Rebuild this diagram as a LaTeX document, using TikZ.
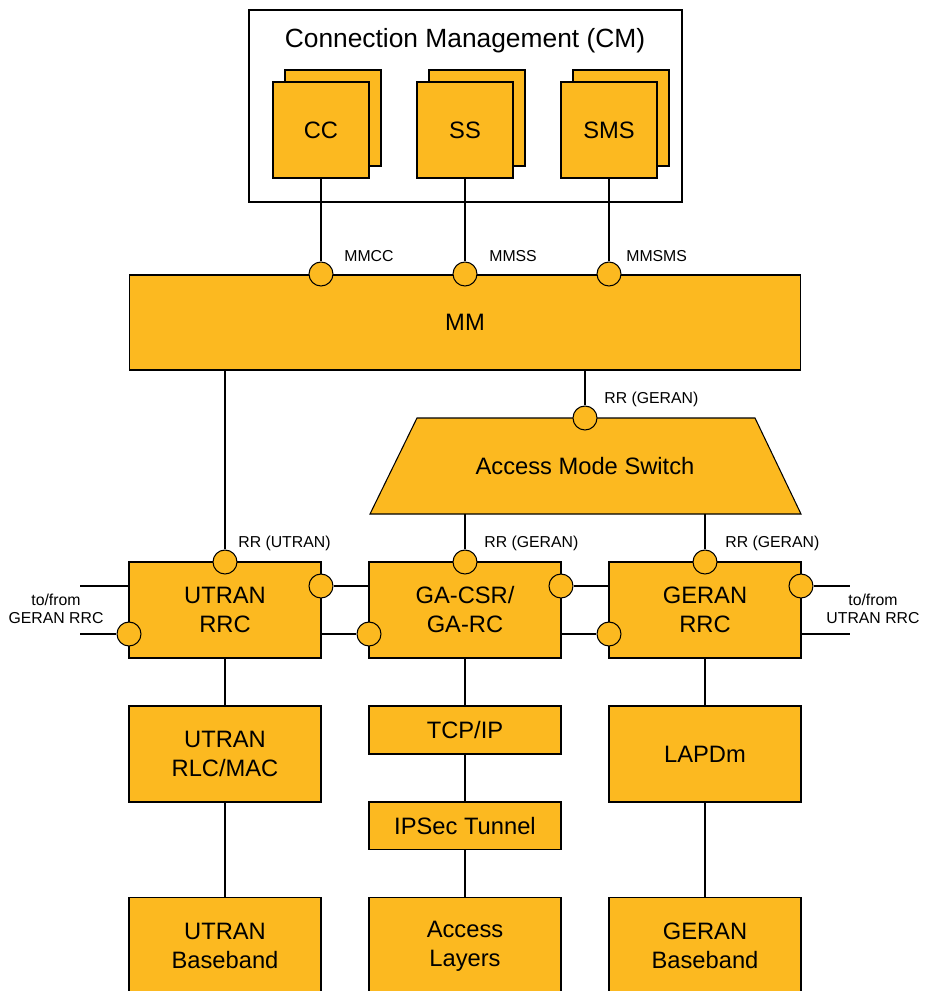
\documentclass[tikz,border=0pt]{standalone}
\usepackage{fontspec}
\setmainfont{Liberation Sans}
\usetikzlibrary{positioning,shadows}
\definecolor{layorange}{HTML}{FCB920}
\tikzset{
  blk/.style={draw,rectangle,fill=layorange,line width=0.6pt,outer sep=0pt,minimum width=3.84cm,minimum height=1.92cm,align=center,font=\fontsize{13.5}{16.5}\selectfont},
  thinblk/.style={blk,minimum height=0.96cm},
  stkblk/.style={blk,minimum width=1.92cm,copy shadow={shadow xshift=0.24cm,shadow yshift=0.24cm,fill=layorange,draw=black,line width=0.6pt}},
  sap/.style={circle,draw,fill=layorange,line width=0.6pt,minimum size=0.48cm,inner sep=0pt},
  lnk/.style={line width=0.85pt},
  lbl/.style={font=\fontsize{9}{10}\selectfont,inner sep=0pt,align=center}
}
\begin{document}
\begin{tikzpicture}[x=0.02cm,y=-0.02cm]
  \useasboundingbox (0,0) rectangle (924,991);
  \clip (0,0) rectangle (924,991);

  % connection management
  \node[draw,line width=1.1pt,minimum width=8.66cm,minimum height=3.84cm] (cmbox) at (465.5,106) {};
  \node[font=\fontsize{15}{18}\selectfont] (cmtitle) at (465,41) {Connection Management (CM)};
  \node[stkblk] (cc) at (321,130) {CC};
  \node[stkblk] (ss) at (465,130) {SS};
  \node[stkblk] (sms) at (609,130) {SMS};

  % mobility management and switch
  \node[blk,minimum width=13.44cm,minimum height=1.9cm] (mm) at (465,322.5) {MM};
  \draw[fill=layorange,line width=0.6pt] (417,418) -- (755,418) -- (801,514) -- (370,514) -- cycle;
  \coordinate (amsbot) at (585,514);
  \node[font=\fontsize{13.5}{16.5}\selectfont] (ams) at (585,466) {Access Mode Switch};

  % RRC row
  \node[blk] (utran) at (225,610) {UTRAN\\RRC};
  \node[blk] (ga) at (465,610) {GA-CSR/\\GA-RC};
  \node[blk] (geran) at (705,610) {GERAN\\RRC};

  % lower layers
  \node[blk,below=0.96cm of utran] (rlc) {UTRAN\\RLC/MAC};
  \node[thinblk,below=0.96cm of ga] (tcp) {TCP/IP};
  \node[thinblk,below=0.96cm of tcp] (ipsec) {IPSec Tunnel};
  \node[blk,below=0.96cm of geran] (lapdm) {LAPDm};
  \node[blk,below=1.92cm of rlc] (utbb) {UTRAN\\Baseband};
  \node[blk,below=0.96cm of ipsec] (acc) {Access\\Layers};
  \node[blk,below=1.92cm of lapdm] (gebb) {GERAN\\Baseband};

  % access points
  \node[sap] (mmcc) at (321,274) {};
  \node[sap] (mmss) at (465,274) {};
  \node[sap] (mmsms) at (609,274) {};
  \node[sap] (amsrr) at (585,418) {};
  \node[sap] (utrr) at (225,562) {};
  \node[sap] (garr) at (465,562) {};
  \node[sap] (gerr) at (705,562) {};
  \node[sap] (utrc) at (321,586) {};
  \node[sap] (utlc) at (129,634) {};
  \node[sap] (galc) at (369,634) {};
  \node[sap] (garc) at (561,586) {};
  \node[sap] (gelc) at (609,634) {};
  \node[sap] (gerc) at (801,586) {};

  \node[lbl,anchor=west] (lmmcc) at (344,256) {MMCC};
  \node[lbl,anchor=west] (lmmss) at (489,256) {MMSS};
  \node[lbl,anchor=west] (lmmsms) at (626,256) {MMSMS};
  \node[lbl,anchor=west] (lamsrr) at (604,399) {RR (GERAN)};
  \node[lbl,anchor=west] (lutrr) at (238,543) {RR (UTRAN)};
  \node[lbl,anchor=west] (lgarr) at (484,543) {RR (GERAN)};
  \node[lbl,anchor=west] (lgerr) at (725,543) {RR (GERAN)};
  \node[lbl] (lleft) at (56,609) {to/from\\GERAN RRC};
  \node[lbl] (lright) at (873,609) {to/from\\UTRAN RRC};

  \coordinate (lfa) at (80,586);
  \coordinate (lfb) at (80,634);
  \coordinate (rta) at (850,586);
  \coordinate (rtb) at (850,634);

  % connectors
  \draw[lnk] (cc) -- (mmcc);
  \draw[lnk] (ss) -- (mmss);
  \draw[lnk] (sms) -- (mmsms);
  \draw[lnk] (mm.south -| utrr) -- (utrr);
  \draw[lnk] (mm.south -| amsrr) -- (amsrr);
  \draw[lnk] (amsbot -| garr) -- (garr);
  \draw[lnk] (amsbot -| gerr) -- (gerr);
  \draw[lnk] (lfa) -- (lfa -| utran.west);
  \draw[lnk] (lfb) -- (utlc);
  \draw[lnk] (utrc) -- (utrc -| ga.west);
  \draw[lnk] (utran.east |- galc) -- (galc);
  \draw[lnk] (garc) -- (garc -| geran.west);
  \draw[lnk] (ga.east |- gelc) -- (gelc);
  \draw[lnk] (gerc) -- (rta);
  \draw[lnk] (geran.east |- rtb) -- (rtb);
  \draw[lnk] (utran) -- (rlc);
  \draw[lnk] (rlc) -- (utbb);
  \draw[lnk] (ga) -- (tcp);
  \draw[lnk] (tcp) -- (ipsec);
  \draw[lnk] (ipsec) -- (acc);
  \draw[lnk] (geran) -- (lapdm);
  \draw[lnk] (lapdm) -- (gebb);
\end{tikzpicture}
\end{document}
